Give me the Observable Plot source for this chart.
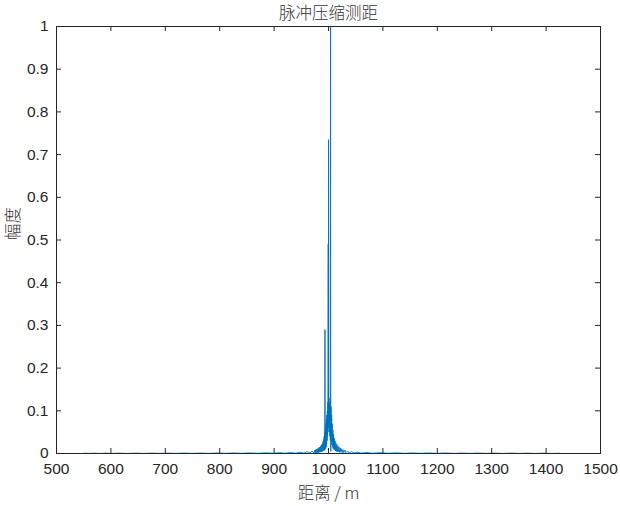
<!DOCTYPE html>
<html>
<head>
<meta charset="utf-8">
<script src="https://cdn.jsdelivr.net/npm/d3@7"></script>
<script src="https://cdn.jsdelivr.net/npm/@observablehq/plot@0.6"></script>
<style>
  html, body { margin: 0; padding: 0; background: #fff; }
  #chart svg { display: block; }
</style>
</head>
<body>
<div id="chart"></div>
<script>
const titleText = "脉冲压缩测距";
const xLabel = "距离 / m";
const yLabel = "幅度";
const xTicks = [500, 600, 700, 800, 900, 1000, 1100, 1200, 1300, 1400, 1500];
const yTicks = [0, 0.1, 0.2, 0.3, 0.4, 0.5, 0.6, 0.7, 0.8, 0.9, 1];

const distance = [550, 560, 570, 580, 590, 600, 615, 630, 645, 660, 675, 690, 705, 720, 735, 750, 765, 780, 795, 810, 825, 840, 855, 870, 885, 900, 910, 920, 930, 940, 948, 955, 961, 966, 970, 973, 975, 975.5, 976.5, 977, 978, 978.5, 979.5, 980, 981, 981.5, 982.5, 983, 984, 984.5, 985.5, 986, 987, 987.5, 988.5, 989, 990, 990.4, 991, 991.4, 992, 992.4, 992.9, 993.2, 993.5, 993.8, 994.3, 994.7, 995.2, 995.6, 996.1, 996.5, 997, 997.4, 997.9, 998.3, 998.8, 999.1, 999.5, 999.8, 1000.1, 1000.5, 1001, 1001.5, 1002, 1002.5, 1003, 1003.4, 1003.8, 1004.2, 1004.7, 1005.2, 1005.8, 1006.3, 1006.9, 1007.4, 1008, 1008.6, 1009.3, 1009.9, 1010.6, 1011.3, 1012, 1012.8, 1013.6, 1014.4, 1015.3, 1016.2, 1017.2, 1018.2, 1019.3, 1020.4, 1021.6, 1022.8, 1024, 1025.3, 1026.7, 1028, 1030, 1032, 1035, 1038, 1042, 1047, 1053, 1060, 1070, 1080, 1095, 1110, 1125, 1140, 1155, 1170, 1185, 1200, 1215, 1230, 1245, 1260, 1275, 1290, 1305, 1320, 1335, 1350, 1365, 1380, 1395, 1410, 1425, 1440, 1450];
const amplitude = [0.0006, 0.0002, 0.0007, 0.0002, 0.0007, 0.0002, 0.0008, 0.0002, 0.0008, 0.0002, 0.0009, 0.0003, 0.0009, 0.0003, 0.001, 0.0003, 0.001, 0.0003, 0.0011, 0.0003, 0.0012, 0.0004, 0.0013, 0.0004, 0.0015, 0.0005, 0.0018, 0.0005, 0.0022, 0.0006, 0.003, 0.0008, 0.0045, 0.001, 0.006, 0.0012, 0.008, 0.001, 0.009, 0.001, 0.01, 0.002, 0.011, 0.002, 0.012, 0.002, 0.014, 0.003, 0.015, 0.003, 0.017, 0.004, 0.02, 0.004, 0.023, 0.005, 0.028, 0.006, 0.033, 0.007, 0.04, 0.008, 0.05, 0.01, 0.29, 0.01, 0.06, 0.012, 0.07, 0.015, 0.08, 0.02, 0.09, 0.03, 0.1, 0.04, 0.12, 0.05, 0.49, 0.06, 0.735, 0.07, 0.13, 0.05, 0.12, 0.04, 0.11, 0.03, 1.0, 0.005, 0.11, 0.03, 0.09, 0.02, 0.07, 0.015, 0.055, 0.012, 0.045, 0.01, 0.036, 0.008, 0.03, 0.006, 0.025, 0.005, 0.021, 0.004, 0.018, 0.004, 0.015, 0.003, 0.013, 0.003, 0.011, 0.002, 0.009, 0.002, 0.008, 0.002, 0.006, 0.0012, 0.0045, 0.001, 0.0032, 0.0007, 0.0024, 0.0006, 0.0018, 0.0005, 0.0015, 0.0004, 0.0013, 0.0004, 0.0012, 0.0003, 0.0011, 0.0003, 0.001, 0.0003, 0.001, 0.0003, 0.0009, 0.0002, 0.0009, 0.0002, 0.0008, 0.0002, 0.0007, 0.0002, 0.0006];

const data = distance.map((d, i) => ({d, a: amplitude[i]}));

const W = 620, H = 506;
const mL = 56, mR = 20, mT = 26, mB = 53;
const pw = W - mL - mR, ph = H - mT - mB;
const ink = "#262626";
const font = "'Liberation Sans', Arial, sans-serif";
const cjk = "'Noto Sans CJK SC', sans-serif";

const chart = Plot.plot({
  width: W, height: H,
  marginLeft: mL, marginRight: mR, marginTop: mT, marginBottom: mB,
  style: {fontFamily: font, fontSize: "15px", color: ink, background: "#fff"},
  x: {domain: [500, 1500], ticks: xTicks},
  y: {domain: [0, 1], ticks: yTicks},
  marks: [
    Plot.line(data, {x: "d", y: "a", stroke: "#0072BD", strokeWidth: 0.9}),
    Plot.frame({stroke: ink, strokeWidth: 1}),
    Plot.tickX(xTicks, {x: d => d, stroke: ink, insetTop: ph - 5}),
    Plot.tickX(xTicks, {x: d => d, stroke: ink, insetBottom: ph - 5}),
    Plot.tickY(yTicks, {y: d => d, stroke: ink, insetRight: pw - 5}),
    Plot.tickY(yTicks, {y: d => d, stroke: ink, insetLeft: pw - 5}),
    Plot.axisX({ticks: xTicks, tickSize: 0, tickPadding: 9, label: null, fontSize: 15.5, fill: ink, tickFormat: d => String(d)}),
    Plot.axisY({ticks: yTicks, tickSize: 0, tickPadding: 8, label: null, fontSize: 15.5, fill: ink, tickFormat: d => String(d)}),
    Plot.text([titleText], {frameAnchor: "top", lineAnchor: "middle", dy: -13, text: d => d, fontFamily: cjk, fontSize: 16.5, fill: "#333", fontWeight: 300}),
    Plot.text([xLabel], {frameAnchor: "bottom", lineAnchor: "middle", dy: 40, text: d => d, fontFamily: cjk, fontSize: 16.5, fill: "#333", fontWeight: 300}),
    Plot.text([yLabel], {frameAnchor: "left", lineAnchor: "middle", dx: -43, rotate: -90, text: d => d, fontFamily: cjk, fontSize: 16.5, fill: "#333", fontWeight: 300})
  ]
});
document.getElementById("chart").appendChild(chart);
</script>
</body>
</html>
